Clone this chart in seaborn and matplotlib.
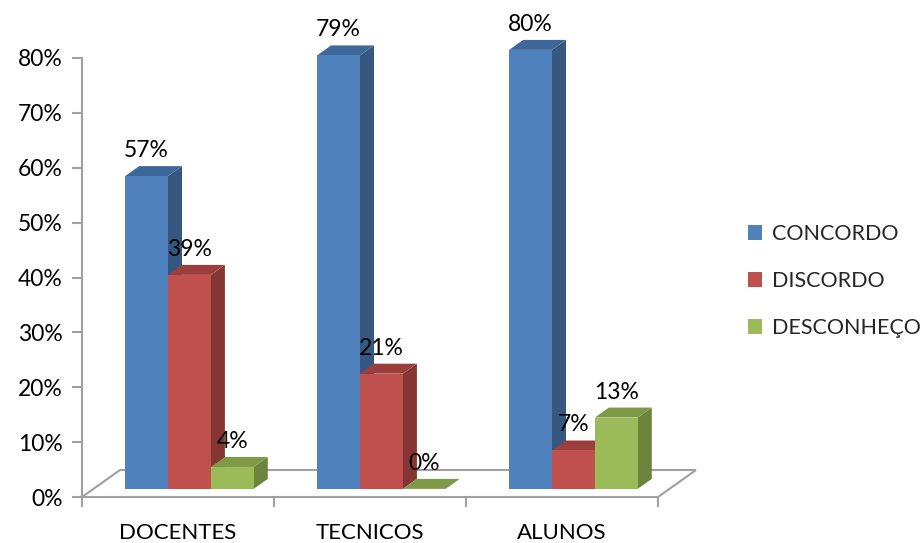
import matplotlib
matplotlib.use("Agg")
import matplotlib.pyplot as plt
import numpy as np
import pandas as pd
import seaborn as sns
from matplotlib.patches import Polygon, Patch, Rectangle
from matplotlib.transforms import IdentityTransform, ScaledTranslation

categories = ["DOCENTES", "TECNICOS", "ALUNOS"]
series = ["CONCORDO", "DISCORDO", "DESCONHEÇO"]
concordo = [57, 79, 80]
discordo = [39, 21, 7]
desconheco = [4, 0, 13]
y_ticks = [0, 10, 20, 30, 40, 50, 60, 70, 80]
y_tick_labels = [f"{v}%" for v in y_ticks]

front_colors = ["#4F81BD", "#C0504D", "#9BBB59"]
top_colors = ["#3F689A", "#9C3F3C", "#7E9A47"]
side_colors = ["#36577F", "#853532", "#6C843C"]

df = pd.DataFrame({
    "cat": categories * 3,
    "series": [series[0]] * 3 + [series[1]] * 3 + [series[2]] * 3,
    "val": concordo + discordo + desconheco,
})

sns.set_theme(style="white")
plt.rcParams["font.family"] = ["Lato", "DejaVu Sans"]

W, H = 924, 543
fig = plt.figure(figsize=(W / 100, H / 100), dpi=100)
ax = fig.add_axes([82 / W, (H - 497) / H, (658 - 82) / W, (497 - 58) / H])

sns.barplot(data=df, x="cat", y="val", hue="series", order=categories,
            hue_order=series, palette=front_colors, width=0.67, saturation=1,
            errorbar=None, legend=False, ax=ax, linewidth=0, edgecolor="none")

ax.set_xlabel("")
ax.set_ylabel("")

grey = "#A0A0A0"
for s in ["top", "right"]:
    ax.spines[s].set_visible(False)
for s in ["left", "bottom"]:
    ax.spines[s].set_color(grey)
    ax.spines[s].set_linewidth(1.5)

ax.set_yticks(y_ticks)
ax.set_yticklabels(y_tick_labels, fontsize=16.5, color="black")
ax.tick_params(axis="y", length=7, width=1.5, color=grey, left=True, pad=7)
ax.set_xticks([-0.5, 0.5, 1.5, 2.5])
ax.set_xticklabels([])
ax.set_xticks([0, 1, 2], minor=True)
ax.set_xticklabels(categories, minor=True, fontsize=16, color="black")
ax.tick_params(axis="x", which="major", length=7, width=1.5, color=grey, bottom=True)
ax.tick_params(axis="x", which="minor", length=0, pad=19)
ax.set_xlim(-0.5, 2.5)
ax.set_ylim(0, 80)

DX, DY = 38.0, 27.0
F0, F1 = 0.30, 0.67

def disp(x, y, f):
    px, py = ax.transData.transform((x, y))
    return (px + DX * f, py + DY * f)

bars = sorted([p for p in ax.patches if isinstance(p, Rectangle)], key=lambda p: p.get_x())

# floor
fl = [disp(-0.5, 0, 0), disp(-0.5, 0, 1), disp(2.5, 0, 1), disp(2.5, 0, 0)]
floor = Polygon(fl, closed=False, facecolor="none", edgecolor=grey, lw=1.5,
                transform=IdentityTransform(), zorder=1, clip_on=False)
ax.add_artist(floor)

shift = ScaledTranslation(DX * F0 / 100, DY * F0 / 100, fig.dpi_scale_trans)
for i, p in enumerate(bars):
    fc = p.get_facecolor()
    ci = int(np.argmin([np.sum((np.array(matplotlib.colors.to_rgb(c)) - np.array(fc[:3])) ** 2)
                        for c in front_colors]))
    x0 = p.get_x()
    x1 = x0 + p.get_width()
    h = p.get_height()
    z = 3 + i * 0.01
    p.set_transform(ax.transData + shift)
    p.set_clip_on(False)
    p.set_zorder(z + 0.005)
    top = [disp(x0, h, F0), disp(x1, h, F0), disp(x1, h, F1), disp(x0, h, F1)]
    side = [disp(x1, 0, F0), disp(x1, h, F0), disp(x1, h, F1), disp(x1, 0, F1)]
    ax.add_artist(Polygon(side, closed=True, facecolor=side_colors[ci], edgecolor="none",
                          transform=IdentityTransform(), zorder=z, clip_on=False))
    ax.add_artist(Polygon(top, closed=True, facecolor=top_colors[ci], edgecolor="none",
                          transform=IdentityTransform(), zorder=z + 0.002, clip_on=False))
    lx = disp((x0 + x1) / 2, h, F0)[0]
    ly = disp(x0, h, F1)[1] + 5
    fig.text(lx, ly, f"{h:.0f}%", transform=IdentityTransform(), ha="center", va="bottom",
             fontsize=16.5, color="black", zorder=10)

handles = [Patch(facecolor=c, edgecolor="none") for c in front_colors]
fig.legend(handles, series, loc="center left", bbox_to_anchor=(748 / W, (H - 281) / H),
           frameon=False, fontsize=15.5, handlelength=0.65, handleheight=0.65,
           handletextpad=0.45, labelspacing=1.25, borderpad=0, borderaxespad=0)

fig.savefig("out.png", dpi=100)
